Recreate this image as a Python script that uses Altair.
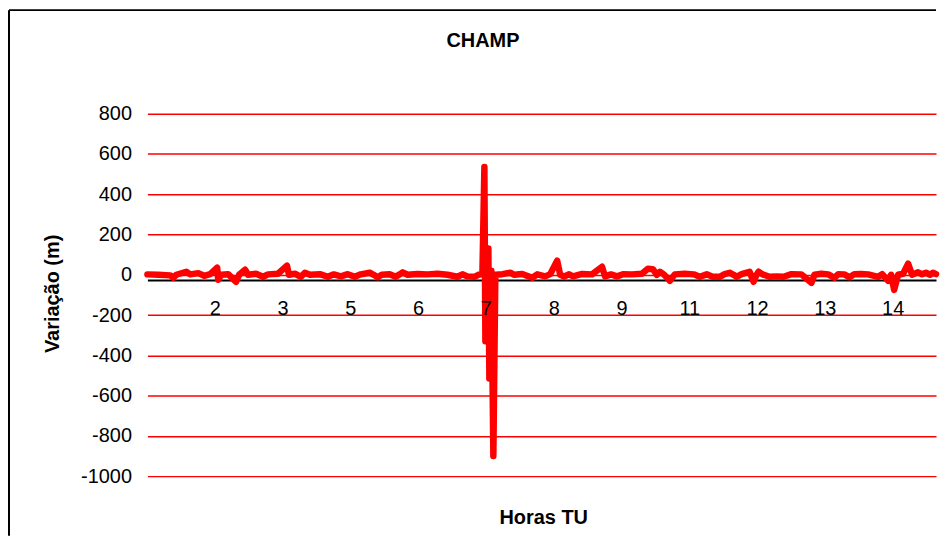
import altair as alt
import pandas as pd

# Sample index along the record (category axis) and variation in metres
amostra = [0, 11, 23, 26, 29, 39, 43, 51, 57, 63, 70, 71, 74, 81, 89, 92, 98, 101, 109, 116,
           121, 131, 140, 142, 148, 154, 158, 163, 173, 181, 187, 194, 201, 208, 214, 223, 227,
           231, 235, 243, 249, 253, 256, 261, 271, 281, 291, 301, 311, 316, 321, 328, 332, 336,
           338, 339, 342, 343, 345, 347, 349, 356, 364, 368, 376, 386, 391, 399, 404, 411, 414,
           418, 423, 427, 436, 446, 456, 459, 465, 471, 477, 486, 496, 502, 507, 511, 514, 518,
           524, 529, 539, 548, 554, 561, 567, 574, 579, 584, 588, 591, 596, 604, 608, 611, 613,
           617, 624, 631, 638, 646, 656, 666, 669, 676, 683, 689, 693, 699, 704, 709, 716, 723,
           733, 737, 743, 746, 749, 753, 758, 763, 767, 773, 777, 781, 785, 788, 791]
variacao = [2, 0, -3, -15, 0, 15, 2, 8, -5, 3, 35, -25, 0, 3, -35, 0, 25, 0, 5, -10,
            2, 5, 45, 0, 5, -10, 10, 0, 3, -10, 2, -8, 3, -10, 2, 10, 0,
            -12, 0, 3, -10, 2, 12, 0, 4, 2, 5, 0, -10, 2, -8, -10, 0, 3,
            535, -330, 130, -515, 20, -900, 0, 3, 10, 0, 4, -15, 2, -8, 3, 70, 0,
            -8, 2, -8, 4, 2, 40, -8, 2, -8, 3, 2, 5, 30, 28, 0, 15, 2,
            -30, 2, 5, 2, -10, 2, -10, -10, 3, 10, 0, -10, 3, 15, -35, 0, 15,
            2, -10, -8, -10, 3, 2, -40, 0, 5, 2, -15, 3, 2, -12, 3, 4, 2,
            -10, 3, -30, 0, -75, 0, 5, 55, 0, 12, 2, 10, 0, 10, 3]

hour_labels = ["2", "3", "5", "6", "7", "8", "9", "11", "12", "13", "14"]
label_samples = [68, 136, 204, 272, 340, 408, 476, 544, 612, 680, 748]
y_ticks = list(range(-1000, 801, 200))

df = pd.DataFrame({"amostra": amostra, "variacao": variacao})
labels_df = pd.DataFrame({"amostra": label_samples, "hora": hour_labels})
one = alt.Data(values=[{"k": 0}])

FONT = "Liberation Sans"
W, H = 792, 364

xscale = alt.Scale(domain=[0, 791], nice=False, zero=False)

line = alt.Chart(df).mark_line(color="#ff0000", strokeWidth=6.5, strokeCap="round",
                               strokeJoin="round").encode(
    x=alt.X("amostra:Q", scale=xscale,
            axis=alt.Axis(values=label_samples, labels=False, title=None, grid=False,
                          ticks=False, domainColor="black", domainWidth=2, offset=-197)),
    y=alt.Y("variacao:Q",
            scale=alt.Scale(domain=[-1000, 800], nice=False, zero=False),
            axis=alt.Axis(values=y_ticks, title=None, domain=False, ticks=False,
                          grid=True, gridColor="#ff0000", gridWidth=1.5,
                          labelExpr="'' + datum.value",
                          labelFont=FONT, labelFontSize=20, labelColor="black",
                          labelPadding=16)),
)

hour_text = alt.Chart(labels_df).mark_text(font=FONT, fontSize=20, color="black",
                                           baseline="middle").encode(
    x=alt.X("amostra:Q", scale=xscale), y=alt.value(196), text="hora:N")

frame_top = alt.Chart(one).mark_rule(color="black", strokeWidth=2).encode(
    x=alt.value(-139), x2=alt.value(792), y=alt.value(-104))
frame_left = alt.Chart(one).mark_rule(color="black", strokeWidth=2).encode(
    x=alt.value(-139), y=alt.value(-104), y2=alt.value(424))

title = alt.Chart(one).mark_text(text="CHAMP", font=FONT, fontSize=20, fontWeight="bold",
                                 color="black").encode(x=alt.value(337), y=alt.value(-73))
xtitle = alt.Chart(one).mark_text(text="Horas TU", font=FONT, fontSize=20, fontWeight="bold",
                                  color="black").encode(x=alt.value(398), y=alt.value(406))
ytitle = alt.Chart(one).mark_text(text="Variação (m)", font=FONT, fontSize=20, fontWeight="bold",
                                  color="black", angle=270).encode(x=alt.value(-95), y=alt.value(181))

chart = alt.layer(line, hour_text, frame_top, frame_left, title, xtitle, ytitle).properties(
    width=W, height=H, padding=0, background="white"
).configure_view(stroke=None)

chart.save("out.html", embed_options={"renderer": "svg", "actions": False})
